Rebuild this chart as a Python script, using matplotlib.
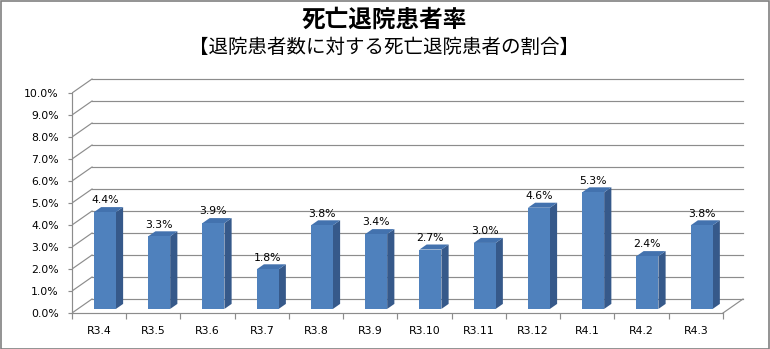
import matplotlib
matplotlib.use("Agg")
import matplotlib.pyplot as plt
from matplotlib.patches import Polygon, Rectangle
from matplotlib.ticker import FixedLocator, FuncFormatter

# monthly death-discharge rate (%)
months = ["R3.4", "R3.5", "R3.6", "R3.7", "R3.8", "R3.9",
          "R3.10", "R3.11", "R3.12", "R4.1", "R4.2", "R4.3"]
rates = [4.4, 3.3, 3.9, 1.8, 3.8, 3.4, 2.7, 3.0, 4.6, 5.3, 2.4, 3.8]
y_ticks = [0, 1, 2, 3, 4, 5, 6, 7, 8, 9, 10]

title = "死亡退院患者率"
subtitle = "【退院患者数に対する死亡退院患者の割合】"

# oblique depth of the 3D box, in data units
DX, DY = 0.369, 0.636
BAR_W = 0.405
BAR_D0, BAR_D = 0.29, 0.36   # bar position / thickness as fraction of depth

FRONT = "#4F81BD"
SIDE = "#36598A"
TOP = "#4372AE"
GRID = "#8C8C8C"

JP = ["Noto Sans CJK JP", "DejaVu Sans"]

fig = plt.figure(figsize=(7.7, 3.49), dpi=100)
ax = fig.add_axes([72 / 770, 36 / 349, 675.4 / 770, 235.4 / 349])
ax.set_xlim(0, 12.45)
ax.set_ylim(0, 10.7)
ax.set_facecolor("none")

n = len(months)

# back wall gridlines and the left-side diagonals
for v in y_ticks:
    ax.plot([DX, n + DX], [v + DY, v + DY], color=GRID, lw=0.85, zorder=1)
    ax.plot([0, DX], [v, v + DY], color=GRID, lw=0.85, zorder=1)
# floor right edge
ax.plot([n, n + DX], [0, DY], color=GRID, lw=0.85, zorder=1)

# bars: front face, side face and top
for i, v in enumerate(rates):
    x0 = i + 0.5 - BAR_W / 2 + DX * BAR_D0
    y0 = DY * BAR_D0
    bdx, bdy = DX * BAR_D, DY * BAR_D
    x1 = x0 + BAR_W
    ax.add_patch(Polygon([(x1, y0), (x1 + bdx, y0 + bdy),
                          (x1 + bdx, y0 + bdy + v), (x1, y0 + v)],
                         closed=True, facecolor=SIDE, edgecolor="none", zorder=3))
    ax.add_patch(Polygon([(x0, y0 + v), (x1, y0 + v),
                          (x1 + bdx, y0 + v + bdy), (x0 + bdx, y0 + v + bdy)],
                         closed=True, facecolor=TOP, edgecolor="none", zorder=3))
    ax.add_patch(Rectangle((x0, y0), BAR_W, v, facecolor=FRONT,
                           edgecolor="none", zorder=4))
    ax.annotate(f"{v:.1f}%", (x0 + BAR_W / 2, y0 + v), xytext=(0, 8.5),
                textcoords="offset points", ha="center", va="center",
                fontsize=7.8, color="#000000", zorder=5)

# axes: front vertical axis and floor front edge
for s in ["top", "right"]:
    ax.spines[s].set_visible(False)
ax.spines["left"].set_bounds(0, 10)
ax.spines["bottom"].set_bounds(0, n)
for s in ["left", "bottom"]:
    ax.spines[s].set_color(GRID)
    ax.spines[s].set_linewidth(0.85)

ax.yaxis.set_major_locator(FixedLocator(y_ticks))
ax.yaxis.set_major_formatter(FuncFormatter(lambda v, _: f"{v:.1f}%"))
ax.tick_params(axis="y", length=3, width=0.85, color=GRID, pad=6.5,
               labelsize=7.8)

ax.set_xticks(range(n + 1))
ax.set_xticklabels([])
ax.set_xticks([i + 0.5 for i in range(n)], minor=True)
ax.set_xticklabels(months, minor=True)
ax.tick_params(axis="x", which="major", length=4, width=0.85, color=GRID)
ax.tick_params(axis="x", which="minor", length=0, pad=9, labelsize=7.8)

fig.text(384 / 770, 1 - 20 / 349, title, ha="center", va="center",
         fontsize=17, fontweight="bold", family=JP)
fig.text(384 / 770, 1 - 47 / 349, subtitle, ha="center", va="center",
         fontsize=14, family=JP)

# chart border
fig.add_artist(Rectangle((0.5 / 770, 0.5 / 349), 768.5 / 770, 347.5 / 349,
                         transform=fig.transFigure, fill=False,
                         edgecolor="#808080", lw=1.2))

fig.savefig("out.png", dpi=100, facecolor="white")
